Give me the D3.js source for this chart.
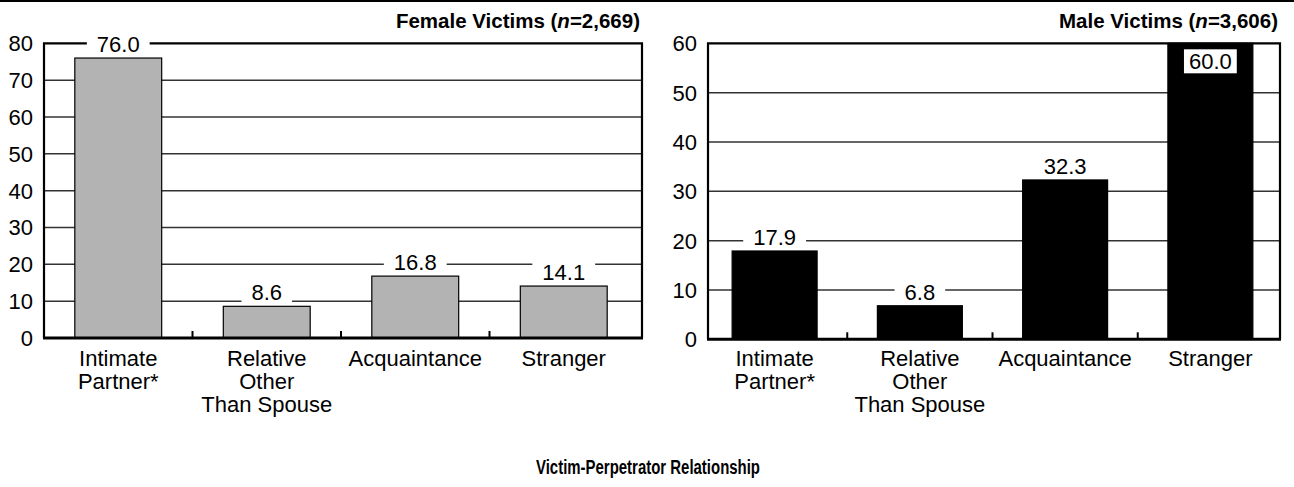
<!DOCTYPE html>
<html>
<head>
<meta charset="utf-8">
<script src="https://cdn.jsdelivr.net/npm/d3@7"></script>
<style>
  body { margin: 0; background: #fff; }
  text { font-family: "Liberation Sans", Arial, sans-serif; }
</style>
</head>
<body>
<svg id="chart" width="1294" height="487"></svg>
<script>
var categories = ["Intimate Partner*", "Relative Other Than Spouse", "Acquaintance", "Stranger"];
var categoryLines = [["Intimate", "Partner*"], ["Relative", "Other", "Than Spouse"], ["Acquaintance"], ["Stranger"]];
var femaleValues = [76.0, 8.6, 16.8, 14.1];
var maleValues = [17.9, 6.8, 32.3, 60.0];
var femaleTicks = [0, 10, 20, 30, 40, 50, 60, 70, 80];
var maleTicks = [0, 10, 20, 30, 40, 50, 60];
var femaleN = "2,669";
var maleN = "3,606";
var axisTitle = "Victim-Perpetrator Relationship";

var svg = d3.select("#chart");

// thin rule across the top
svg.append("line")
    .attr("x1", 0).attr("x2", 1294)
    .attr("y1", 1).attr("y2", 1)
    .attr("stroke", "#000").attr("stroke-width", 2);

var panels = [
    { title: "Female Victims", n: femaleN, values: femaleValues, ticks: femaleTicks,
      left: 44, right: 642, top: 43.3, bottom: 338, band: [44, 638], fill: "#b3b3b3" },
    { title: "Male Victims", n: maleN, values: maleValues, ticks: maleTicks,
      left: 708, right: 1280, top: 43.3, bottom: 339.3, band: [702, 1283], fill: "#000" }
];

panels.forEach(drawPanel);

function drawPanel(p) {
    var ymax = d3.max(p.ticks);
    var x = d3.scaleBand().domain(categories).range(p.band).padding(0);
    var y = d3.scaleLinear().domain([0, ymax]).range([p.bottom, p.top]);
    var barW = x.bandwidth() * 0.585;

    var g = svg.append("g");

    // gridlines
    g.selectAll(".grid")
        .data(p.ticks.filter(function (t) { return t > 0 && t < ymax; }))
        .enter().append("line")
        .attr("x1", p.left).attr("x2", p.right)
        .attr("y1", function (d) { return y(d); })
        .attr("y2", function (d) { return y(d); })
        .attr("stroke", "#333").attr("stroke-width", 1.5);

    // bars
    g.selectAll(".bar")
        .data(p.values)
        .enter().append("rect")
        .attr("x", function (d, i) { return x(categories[i]) + (x.bandwidth() - barW) / 2; })
        .attr("y", function (d) { return y(d); })
        .attr("width", barW)
        .attr("height", function (d) { return y(0) - y(d); })
        .attr("fill", p.fill)
        .attr("stroke", "#000").attr("stroke-width", 1.2);

    // frame: left, top, right
    g.append("path")
        .attr("d", "M" + p.left + "," + p.bottom + "V" + p.top + "H" + p.right + "V" + p.bottom)
        .attr("fill", "none").attr("stroke", "#000").attr("stroke-width", 2.2);
    // baseline
    g.append("line")
        .attr("x1", p.left - 1).attr("x2", p.right + 1)
        .attr("y1", y(0)).attr("y2", y(0))
        .attr("stroke", "#000").attr("stroke-width", 3);

    // tick marks between categories
    g.selectAll(".tick")
        .data(categories.slice(1))
        .enter().append("line")
        .attr("x1", function (d) { return x(d); })
        .attr("x2", function (d) { return x(d); })
        .attr("y1", y(0)).attr("y2", y(0) - 7)
        .attr("stroke", "#000").attr("stroke-width", 2);

    // y tick labels
    g.selectAll(".ylab")
        .data(p.ticks)
        .enter().append("text")
        .attr("x", p.left - 11)
        .attr("y", function (d) { return y(d); })
        .attr("dy", "0.36em")
        .attr("text-anchor", "end")
        .attr("font-size", 22)
        .text(function (d) { return d; });

    // value labels with white boxes
    p.values.forEach(function (v, i) {
        var cx = x(categories[i]) + x.bandwidth() / 2;
        var inside = v >= ymax;
        var cy = inside ? y(v) + 18 : y(v) - 14;
        var box = g.append("rect").attr("fill", "#fff");
        var t = g.append("text")
            .attr("x", cx).attr("y", cy).attr("dy", "0.36em")
            .attr("text-anchor", "middle")
            .attr("font-size", 22)
            .text(v.toFixed(1));
        var w = t.node().getComputedTextLength() + (inside ? 10 : 20);
        box.attr("x", cx - w / 2).attr("y", cy - 12).attr("width", w).attr("height", 24);
    });

    // category labels
    categoryLines.forEach(function (lines, i) {
        var t = g.append("text")
            .attr("x", x(categories[i]) + x.bandwidth() / 2)
            .attr("y", 366)
            .attr("text-anchor", "middle")
            .attr("font-size", 22);
        lines.forEach(function (line, j) {
            t.append("tspan")
                .attr("x", x(categories[i]) + x.bandwidth() / 2)
                .attr("y", 366 + j * 23)
                .text(line);
        });
    });

    // panel title
    var title = g.append("text")
        .attr("x", p.right - 2).attr("y", 28)
        .attr("text-anchor", "end")
        .attr("font-size", 20.5).attr("font-weight", "bold");
    title.append("tspan").text(p.title + " (");
    title.append("tspan").attr("font-style", "italic").text("n");
    title.append("tspan").text("=" + p.n + ")");
}

// condensed bold axis title
svg.append("text")
    .attr("x", 648).attr("y", 474)
    .attr("text-anchor", "middle")
    .style("font-family", "'Liberation Sans Narrow', 'Arial Narrow', 'Liberation Sans', sans-serif")
    .attr("font-size", 19.5).attr("font-weight", "bold")
    .attr("textLength", 224).attr("lengthAdjust", "spacingAndGlyphs")
    .text(axisTitle);
</script>
</body>
</html>
